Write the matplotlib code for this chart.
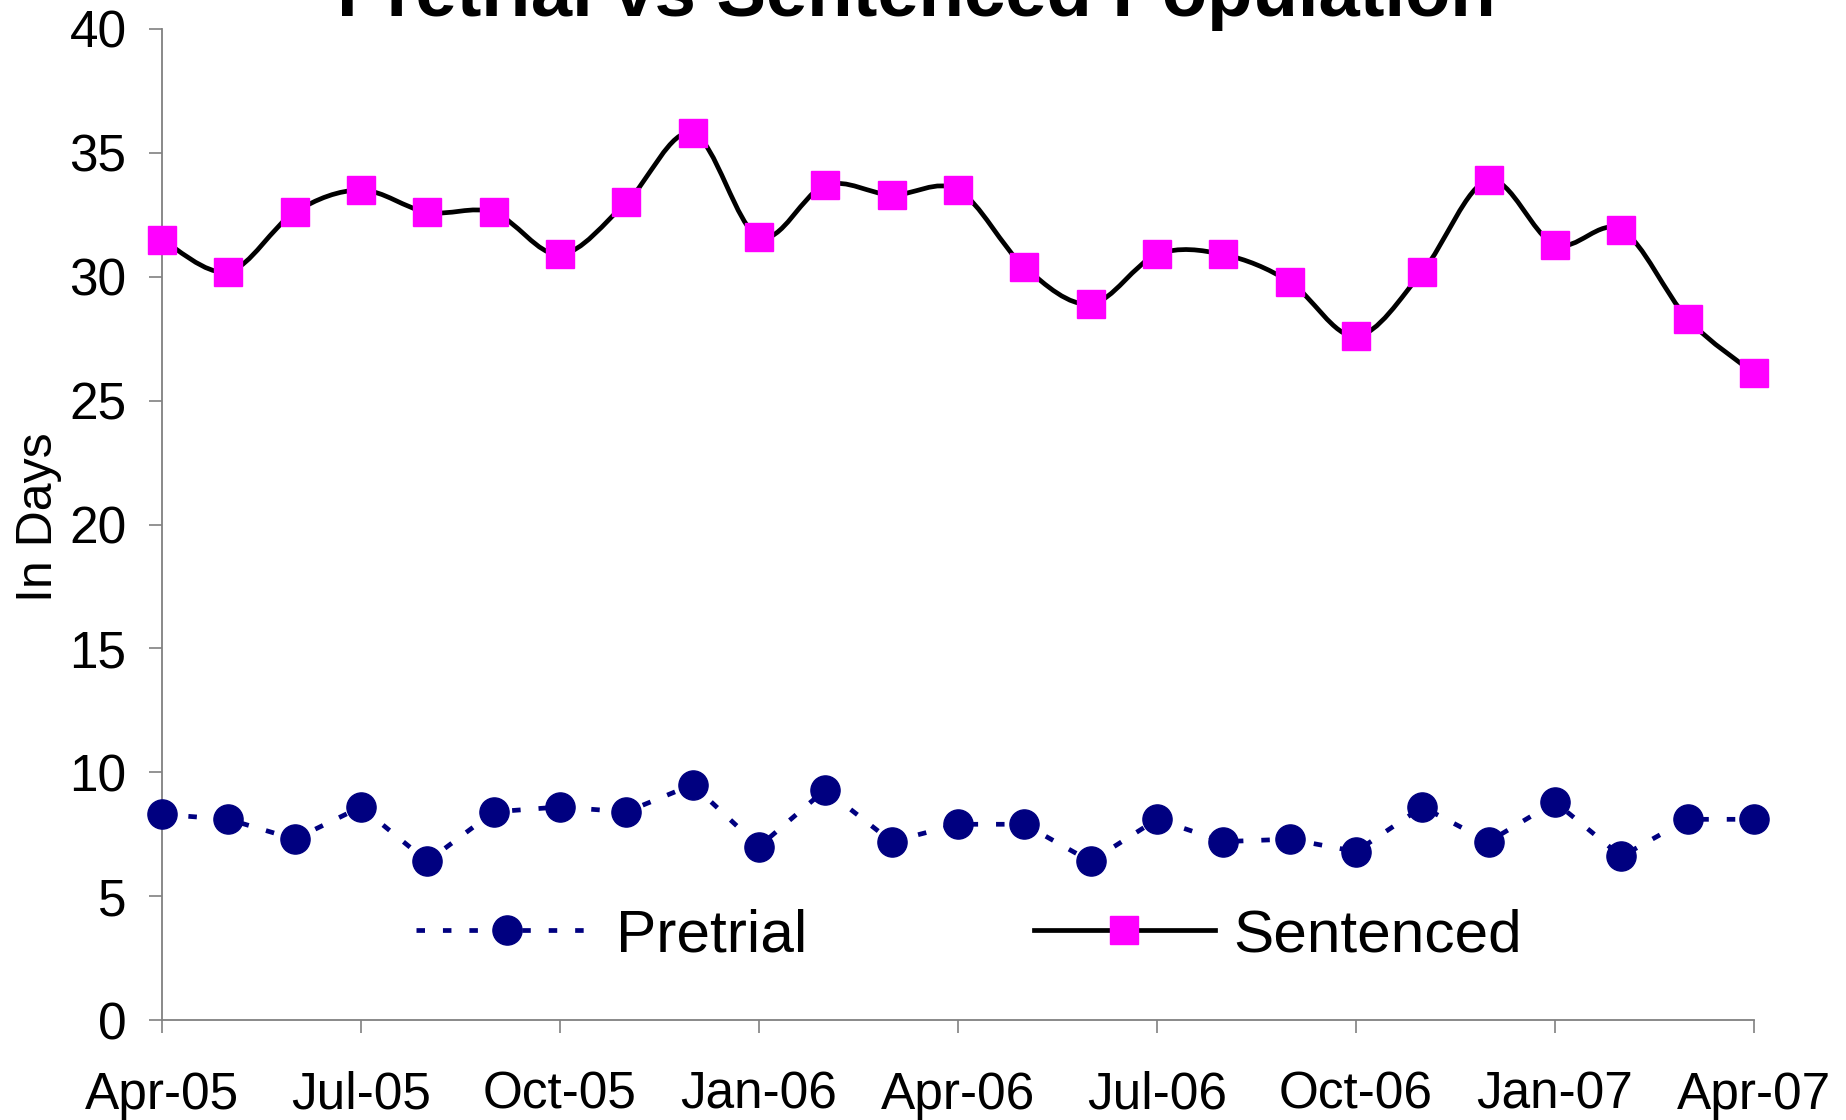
import matplotlib
matplotlib.use("Agg")
import matplotlib.pyplot as plt
from matplotlib.path import Path
from matplotlib.patches import PathPatch
from matplotlib.lines import Line2D
import numpy as np

plt.rcParams['font.family'] = ['Liberation Sans', 'DejaVu Sans']

months = ["Apr-05", "May-05", "Jun-05", "Jul-05", "Aug-05", "Sep-05", "Oct-05", "Nov-05",
          "Dec-05", "Jan-06", "Feb-06", "Mar-06", "Apr-06", "May-06", "Jun-06", "Jul-06",
          "Aug-06", "Sep-06", "Oct-06", "Nov-06", "Dec-06", "Jan-07", "Feb-07", "Mar-07", "Apr-07"]
pretrial = [8.3, 8.1, 7.3, 8.6, 6.4, 8.4, 8.6, 8.4, 9.5, 7.0, 9.3, 7.2, 7.9,
            7.9, 6.4, 8.1, 7.2, 7.3, 6.8, 8.6, 7.2, 8.8, 6.6, 8.1, 8.1]
sentenced = [31.5, 30.2, 32.6, 33.5, 32.6, 32.6, 30.9, 33.0, 35.8, 31.6, 33.7, 33.3, 33.5,
             30.4, 28.9, 30.9, 30.9, 29.8, 27.6, 30.2, 33.9, 31.3, 31.9, 28.3, 26.1]
tick_labels = ["Apr-05", "Jul-05", "Oct-05", "Jan-06", "Apr-06", "Jul-06", "Oct-06", "Jan-07", "Apr-07"]

W, H = 1846, 1120
fig = plt.figure(figsize=(W / 100, H / 100), dpi=100)
ax = fig.add_axes([162 / W, 1 - 1020 / H, (1754 - 162) / W, (1020 - 29) / H])

x = np.arange(len(months))
navy = "#000080"
magenta = "#FF00FF"
LW = 3.4
DASH = (1.8, 3.8)

# Pretrial: dashed navy line with circles
ax.plot(x, pretrial, color=navy, lw=LW, dashes=DASH, marker='o', ms=21,
        mfc=navy, mec=navy, clip_on=False, zorder=3)

# Sentenced: smoothed black line (Catmull-Rom bezier through data points)
ys = np.array(sentenced, dtype=float)
xs = x.astype(float)
P = np.column_stack([xs, ys])
verts = [P[0]]
codes = [Path.MOVETO]
n = len(P)
for i in range(n - 1):
    p0 = P[i - 1] if i > 0 else P[i]
    p1 = P[i]
    p2 = P[i + 1]
    p3 = P[i + 2] if i + 2 < n else P[i + 1]
    c1 = p1 + (p2 - p0) / 6.0
    c2 = p2 - (p3 - p1) / 6.0
    verts += [c1, c2, p2]
    codes += [Path.CURVE4] * 3
patch = PathPatch(Path(verts, codes), facecolor='none', edgecolor='black', lw=LW,
                  zorder=3, clip_on=False, joinstyle='round')
ax.add_patch(patch)
ax.plot(x, sentenced, ls='none', marker='s', ms=20, mfc=magenta, mec=magenta,
        clip_on=False, zorder=4)

ax.set_xlim(0, len(months) - 1)
ax.set_ylim(0, 40)
ax.set_yticks(np.arange(0, 41, 5))
ax.set_xticks(x[::3])
ax.set_xticklabels(tick_labels)

for s in ['top', 'right']:
    ax.spines[s].set_visible(False)
for s in ['left', 'bottom']:
    ax.spines[s].set_color('#808080')
    ax.spines[s].set_linewidth(1.3)

ax.tick_params(axis='both', direction='out', length=9.5, width=1.2, color='#808080',
               labelsize=37, labelcolor='black')
ax.tick_params(axis='x', pad=27)
ax.tick_params(axis='y', pad=16)

ax.set_ylabel("In Days", fontsize=36)
ax.yaxis.set_label_coords(-0.063, 0.507)

fig.text(916 / W, 1 - 16 / H, "Pretrial vs Sentenced Population", fontsize=53.5,
         fontweight='bold', ha='center', va='baseline')

h1 = Line2D([], [], color=navy, lw=LW, dashes=DASH, marker='o', ms=21, mfc=navy, mec=navy)
h2 = Line2D([], [], color='black', lw=LW, marker='s', ms=20, mfc=magenta, mec=magenta)
ax.legend([h1, h2], ["Pretrial", "Sentenced"], ncol=2, frameon=False, fontsize=43.5,
          loc='center', bbox_to_anchor=(0.507, 0.085), handlelength=3.0,
          handletextpad=0.3, columnspacing=3.75, numpoints=1)

fig.savefig("out.png", dpi=100)
